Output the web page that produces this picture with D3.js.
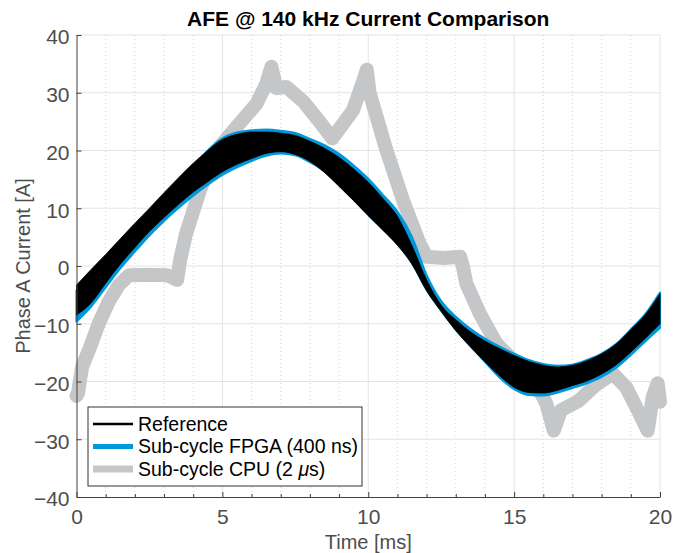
<!DOCTYPE html>
<html>
<head>
<meta charset="utf-8">
<script src="https://cdn.jsdelivr.net/npm/d3@7"></script>
<style>
  body { margin: 0; background: #fff; }
  #graph { width: 680px; height: 553px; }
  text { font-family: "Liberation Sans", Arial, Helvetica, sans-serif; }
</style>
</head>
<body>
<div id="graph"></div>
<script>
// Globals - values
var timeMs = [0, 0.5, 1, 1.5, 2, 2.5, 3, 3.5, 4, 4.5, 5, 5.5, 6, 6.5, 7, 7.5, 8, 8.5, 9, 9.5, 10,
  10.5, 11, 11.5, 12, 12.5, 13, 13.5, 14, 14.5, 15, 15.5, 16, 16.5, 17, 17.5, 18, 18.5, 19, 19.5, 20];

// reference current, ripple envelope (top / bottom of the band)
var refUpper = [-3.3, -0.6, 2.0, 4.7, 7.4, 10.0, 12.7, 15.3, 17.8, 20.0, 21.9, 22.8, 23.2, 23.2, 23.0, 22.6, 21.6, 20.4, 18.8, 16.8, 14.5,
  11.7, 8.6, 3.5, -2.4, -6.8, -9.3, -11.4, -13.0, -14.3, -15.5, -16.5, -17.2, -17.5, -17.2, -16.4, -15.2, -13.5, -11.0, -8.4, -4.8];
var refLower = [-8.5, -6.4, -3.0, 0.3, 3.2, 6.0, 8.4, 10.7, 12.8, 14.6, 16.3, 17.6, 18.6, 19.5, 19.8, 19.3, 18.1, 16.2, 13.8, 11.3, 8.7,
  6.2, 3.6, 0.3, -4.3, -7.9, -11.2, -14.0, -16.6, -19.0, -21.0, -21.9, -22.0, -21.5, -20.7, -19.9, -18.7, -17.1, -14.9, -12.5, -10.0];

// sub-cycle FPGA (400 ns) envelope
var fpgaUpper = [-4.2, -1.4, 1.2, 3.9, 6.6, 9.2, 11.9, 14.5, 17.0, 20.0, 22.1, 23.1, 23.5, 23.6, 23.4, 23.0, 22.0, 20.9, 19.4, 17.4, 15.1,
  12.3, 9.4, 5.0, -1.6, -6.1, -8.8, -10.9, -12.6, -14.0, -15.2, -16.3, -17.0, -17.3, -17.1, -16.3, -15.2, -13.5, -11.0, -8.3, -4.6];
var fpgaLower = [-9.6, -7.0, -3.7, -0.4, 2.5, 5.3, 7.8, 10.1, 12.2, 14.1, 15.8, 17.1, 18.2, 19.1, 19.5, 19.2, 18.0, 16.4, 14.0, 11.5, 8.9,
  6.4, 3.8, 0.5, -4.1, -7.7, -11.0, -13.8, -16.6, -19.3, -21.3, -22.3, -22.4, -21.9, -21.1, -20.3, -19.2, -17.6, -15.4, -13.0, -10.7];

// sub-cycle CPU (2 us) trace
var cpuTime = [0, 0.05, 0.19, 0.47, 0.76, 1.1, 1.45, 1.8, 2.5, 3.1, 3.45, 3.55, 3.75, 4.23, 4.8, 5.49, 6.17, 6.51, 6.68, 6.85,
  7.2, 7.77, 8.3, 8.77, 9.48, 9.88, 9.95, 10.05, 10.62, 11.19, 11.76, 12.0, 12.6, 13.15, 13.25, 13.36, 13.82, 14.39, 15.08,
  15.64, 16.1, 16.36, 16.6, 17.2, 17.8, 18.38, 18.84, 19.3, 19.58, 19.75, 19.92, 20];
var cpuCurrent = [-22.5, -22.0, -17.5, -14.0, -10.0, -6.2, -3.3, -1.6, -1.5, -1.6, -2.4, 1.0, 5.5, 13.1, 20.0, 24.1, 28.1, 31.6, 34.5, 30.8,
  31.0, 28.5, 25.2, 22.1, 27.0, 32.8, 34.0, 29.9, 20.1, 11.4, 3.9, 1.6, 1.4, 1.6, -0.2, -3.0, -8.2, -13.4, -16.9,
  -19.2, -23.8, -28.5, -25.0, -23.4, -20.6, -18.6, -21.0, -25.6, -28.5, -22.7, -20.3, -23.5];

var xTicks = [0, 5, 10, 15, 20];
var yTicks = [-40, -30, -20, -10, 0, 10, 20, 30, 40];
var seriesNames = ["Reference", "Sub-cycle FPGA (400 ns)", "Sub-cycle CPU (2 "];

var colBlue = "#0097db";
var colGray = "#c5c6c8";
var colAxis = "#404040";
var colText = "#4d4d4d";

drawChart();

function drawChart(){
  var margin = {top: 35, right: 20, bottom: 56, left: 76.5},
    width = 680 - margin.left - margin.right,
    height = 553 - margin.top - margin.bottom;

  var svg = d3.select("#graph")
    .append("svg")
      .attr("width", 680)
      .attr("height", 553)
    .append("g")
      .attr("transform", "translate(" + margin.left + "," + margin.top + ")");

  var x = d3.scaleLinear().domain([0, 20]).range([0, width]);
  var y = d3.scaleLinear().domain([-40, 40]).range([height, 0]);
  var minorX = d3.range(1, 20).filter(function(d){ return d % 5 !== 0; });

  // minor grid (dotted, every ms)
  svg.append("g")
    .selectAll("line")
    .data(minorX)
    .enter().append("line")
      .attr("x1", function(d){ return x(d); })
      .attr("x2", function(d){ return x(d); })
      .attr("y1", 0).attr("y2", height)
      .attr("stroke", "#d4d4d4")
      .attr("stroke-dasharray", "1,3");

  // major grid
  svg.append("g")
    .selectAll("line")
    .data(xTicks.slice(1))
    .enter().append("line")
      .attr("x1", function(d){ return x(d); })
      .attr("x2", function(d){ return x(d); })
      .attr("y1", 0).attr("y2", height)
      .attr("stroke", "#e3e3e3");
  svg.append("g")
    .selectAll("line")
    .data(yTicks.slice(1))
    .enter().append("line")
      .attr("x1", 0).attr("x2", width)
      .attr("y1", function(d){ return y(d); })
      .attr("y2", function(d){ return y(d); })
      .attr("stroke", "#e3e3e3");

  // CPU trace (thick grey)
  var cpuData = cpuTime.map(function(t, i){ return {t: t, v: cpuCurrent[i]}; });
  svg.append("path")
    .datum(cpuData)
    .attr("fill", "none")
    .attr("stroke", colGray)
    .attr("stroke-width", 14)
    .attr("stroke-linejoin", "round")
    .attr("stroke-linecap", "round")
    .attr("d", d3.line()
      .x(function(d){ return x(d.t); })
      .y(function(d){ return y(d.v); }));

  // FPGA band
  var fpgaData = timeMs.map(function(t, i){ return {t: t, hi: fpgaUpper[i], lo: fpgaLower[i]}; });
  svg.append("path")
    .datum(fpgaData)
    .attr("fill", colBlue)
    .attr("stroke", colBlue)
    .attr("stroke-width", 2.2)
    .attr("stroke-linejoin", "round")
    .attr("d", d3.area()
      .curve(d3.curveMonotoneX)
      .x(function(d){ return x(d.t); })
      .y0(function(d){ return y(d.lo); })
      .y1(function(d){ return y(d.hi); }));

  // reference band
  var refData = timeMs.map(function(t, i){ return {t: t, hi: refUpper[i], lo: refLower[i]}; });
  svg.append("path")
    .datum(refData)
    .attr("fill", "#000")
    .attr("stroke", "#000")
    .attr("stroke-width", 0.8)
    .attr("d", d3.area()
      .curve(d3.curveMonotoneX)
      .x(function(d){ return x(d.t); })
      .y0(function(d){ return y(d.lo); })
      .y1(function(d){ return y(d.hi); }));

  // axes, ticks point inward like matlab
  var xAxis = svg.append("g")
    .attr("transform", "translate(0," + height + ")")
    .call(d3.axisBottom(x).tickValues(xTicks).tickSize(-5).tickPadding(12).tickSizeOuter(0));
  svg.append("g")
    .attr("transform", "translate(0," + height + ")")
    .call(d3.axisBottom(x).tickValues(minorX).tickSize(-3).tickSizeOuter(0).tickFormat(""))
    .select(".domain").remove();
  var yAxis = svg.append("g")
    .call(d3.axisLeft(y).tickValues(yTicks).tickSize(-5).tickPadding(7).tickSizeOuter(0));

  [xAxis, yAxis].forEach(function(ax){
    ax.select(".domain").attr("stroke", colAxis);
    ax.selectAll(".tick text")
      .attr("fill", colText)
      .style("font-size", "21px");
  });
  svg.selectAll(".tick line").attr("stroke", colAxis);
  yAxis.selectAll(".tick text").attr("dy", "0.42em");

  // labels
  svg.append("text")
    .attr("x", width / 2).attr("y", -9)
    .attr("text-anchor", "middle")
    .style("font-size", "21px")
    .style("font-weight", "bold")
    .attr("fill", "#000")
    .text("AFE @ 140 kHz Current Comparison");
  svg.append("text")
    .attr("x", width / 2).attr("y", height + 52)
    .attr("text-anchor", "middle")
    .style("font-size", "20px")
    .attr("fill", colText)
    .text("Time [ms]");
  svg.append("text")
    .attr("transform", "translate(-47," + (height / 2) + ") rotate(-90)")
    .attr("text-anchor", "middle")
    .style("font-size", "20px")
    .attr("fill", colText)
    .text("Phase A Current [A]");

  // legend
  var leg = svg.append("g").attr("transform", "translate(" + (88 - margin.left) + "," + (407 - margin.top) + ")");
  leg.append("rect")
    .attr("width", 274).attr("height", 79)
    .attr("fill", "#fff")
    .attr("stroke", "#333")
    .attr("stroke-width", 1);
  var legColors = ["#000", colBlue, colGray];
  var legWidths = [2.5, 5, 7];
  seriesNames.forEach(function(name, i){
    var ly = 17 + i * 22.5;
    leg.append("line")
      .attr("x1", 5).attr("x2", 45)
      .attr("y1", ly).attr("y2", ly)
      .attr("stroke", legColors[i])
      .attr("stroke-width", legWidths[i]);
    var txt = leg.append("text")
      .attr("x", 50).attr("y", ly)
      .attr("dy", "0.35em")
      .style("font-size", "19.5px")
      .attr("fill", "#000")
      .text(name);
    if(i === 2){
      // matlab tex \mus
      txt.append("tspan").style("font-style", "italic").text("\u03BC");
      txt.append("tspan").text("s)");
    }
  });
}
</script>
</body>
</html>
